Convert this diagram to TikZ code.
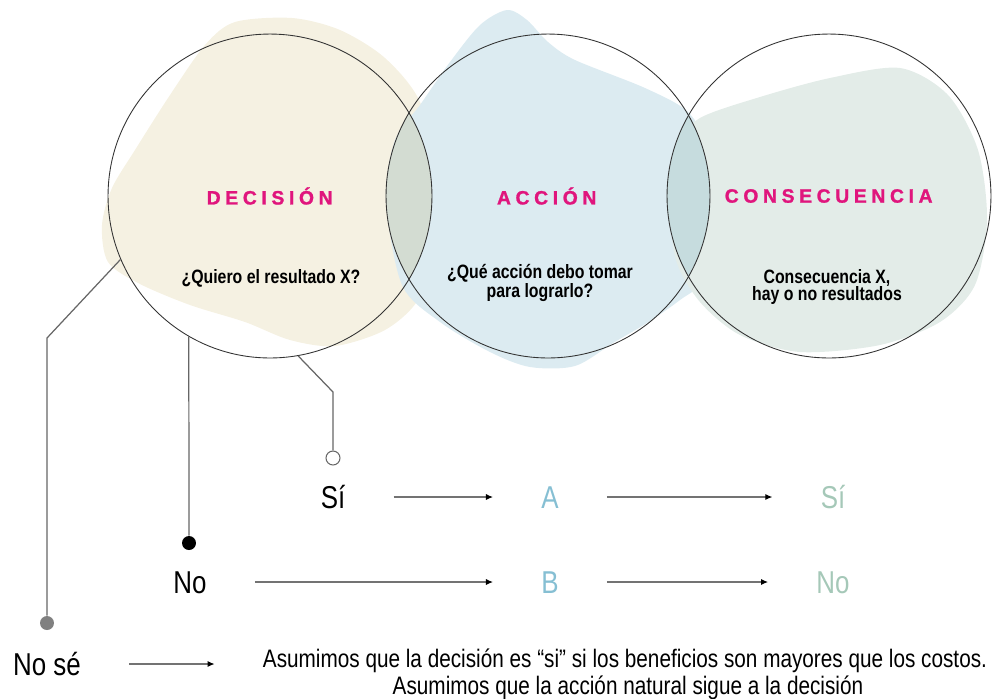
\documentclass[tikz,border=0pt]{standalone}
\usepackage{fontspec}
\usetikzlibrary{arrows.meta}
\newfontfamily\condfont[FakeStretch=0.82]{Liberation Sans}
\newfontfamily\titlefont[FakeBold=1.2]{Liberation Sans Bold}
\makeatletter
\newcommand\spreadword[1]{\@tfor\sw@c:=#1\do{\sw@c\kern0.24em}}
\makeatother
\definecolor{titlepink}{HTML}{E0157D}
\definecolor{creamfill}{HTML}{F5F1E2}
\definecolor{bluefill}{HTML}{DCEBF1}
\definecolor{greenfill}{HTML}{E3ECE8}
\definecolor{lensA}{HTML}{D3DCD2}
\definecolor{lensB}{HTML}{C6DCDE}
\definecolor{accblue}{HTML}{86BFD3}
\definecolor{congreen}{HTML}{A5C8B8}
\tikzset{
	ring/.style={circle, draw=black!80, line width=0.5pt, minimum size=6.48cm, inner sep=0pt},
	title/.style={text=titlepink, font=\titlefont\fontsize{11}{12}\selectfont},
	question/.style={font=\condfont\bfseries\fontsize{11}{10}\selectfont, align=center},
	answer/.style={font=\condfont\fontsize{18}{20}\selectfont, inner sep=0pt, text height=12.9pt, text depth=0pt},
	note/.style={font=\condfont\fontsize{14.4}{13}\selectfont, inner sep=0pt, text height=10.3pt, text depth=0pt},
	link/.style={draw=black!60, line width=0.7pt},
	flow/.style={draw=black!55, line width=0.7pt, -{Latex[length=4pt,width=3.5pt,black]}, shorten <=0.96cm, shorten >=0.96cm},
	dot/.style={circle, inner sep=0pt, minimum size=0.28cm}
}
\begin{document}
\begin{tikzpicture}[x=0.02cm, y=0.02cm]
	\useasboundingbox (0,0) rectangle (995,-698);
	\fill[creamfill] plot[smooth cycle] coordinates {(235,-22) (292,-18) (340,-30) (385,-58) (420,-102) (436,-175) (433,-250) (418,-300) (385,-330) (335,-346) (290,-340) (245,-322) (190,-305) (140,-284) (108,-262) (102,-225) (112,-188) (135,-150) (170,-95) (205,-45)};
	\fill[bluefill] plot[smooth cycle] coordinates {(507,-10) (527,-20) (548,-42) (575,-60) (645,-88) (688,-112) (708,-150) (713,-220) (702,-280) (680,-300) (647,-323) (613,-343) (575,-366) (530,-367) (490,-352) (440,-322) (402,-285) (386,-200) (395,-140) (420,-105) (450,-62) (480,-25)};
	\fill[greenfill] plot[smooth cycle] coordinates {(700,-118) (760,-97) (830,-78) (900,-68) (948,-95) (978,-150) (987,-220) (975,-285) (940,-322) (880,-345) (800,-352) (740,-335) (700,-302) (676,-260) (670,-200) (678,-145)};
	\begin{scope}
		\clip (270,-196) circle (3.24cm);
		\fill[lensA] (548,-196) circle (3.24cm);
	\end{scope}
	\begin{scope}
		\clip (548,-196) circle (3.24cm);
		\fill[lensB] (829,-196) circle (3.24cm);
	\end{scope}
	\node[ring] (dec) at (270,-196) {};
	\node[ring] (acc) at (548,-196) {};
	\node[ring] (con) at (829,-196) {};
	\node[title] (dectitle) at (272,-196) {\spreadword{DECISIÓN}};
	\node[title] (acctitle) at (549,-196) {\spreadword{ACCIÓN}};
	\node[title] (contitle) at (831,-196) {\spreadword{CONSECUENCIA}};
	\node[question] (decq) at (271,-278) {¿Quiero el resultado X?};
	\node[question] (accq) at (540,-283) {¿Qué acción debo tomar\\para lograrlo?};
	\node[question] (conq) at (827,-287) {Consecuencia X,\\hay o no resultados};
	\node[answer] (si) at (333,-497) {Sí};
	\node[answer, text=accblue] (a) at (550,-497) {A};
	\node[answer, text=congreen] (siout) at (833,-497) {Sí};
	\node[answer] (no) at (190,-582) {No};
	\node[answer, text=accblue] (b) at (550,-582) {B};
	\node[answer, text=congreen] (noout) at (833,-582) {No};
	\node[answer] (nose) at (47,-664) {No sé};
	\node[note] (notea) at (625,-658) {Asumimos que la decisión es “si” si los beneficios son mayores que los costos.};
	\node[note] (noteb) at (628,-685) {Asumimos que la acción natural sigue a la decisión};
	\node[dot, draw=black!60, fill=white, line width=0.6pt] (sidot) at (333,-458) {};
	\node[dot, fill=black] (nodot) at (189,-543) {};
	\node[dot, fill=black!50] (nosedot) at (47,-623) {};
	\coordinate (sibend) at (333,-392);
	\coordinate (nosebend) at (47,-338);
	\draw[link] (dec.280.5) -- (sibend) -- (sidot);
	\draw[link] (dec.240) -- (nodot);
	\draw[link] (dec.203.7) -- (nosebend) -- (nosedot);
	\draw[flow] (si) -- (a);
	\draw[flow] (a) -- (siout);
	\draw[flow] (no) -- (b);
	\draw[flow] (b) -- (noout);
	\draw[flow] (nose) -- (nose -| notea.west);
\end{tikzpicture}
\end{document}
